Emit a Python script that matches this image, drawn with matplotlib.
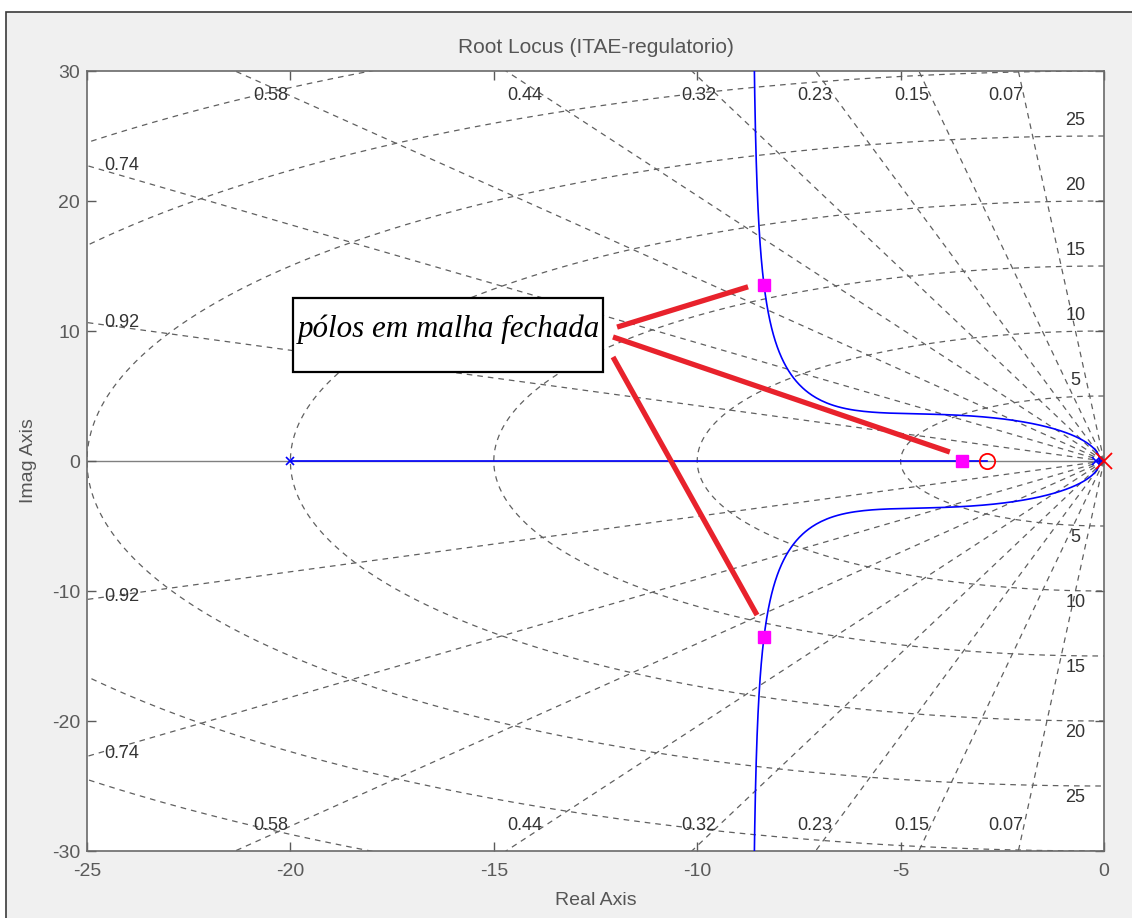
import numpy as np
import matplotlib
matplotlib.use("Agg")
import matplotlib.pyplot as plt
from matplotlib.patches import Rectangle

# open loop poles / zeros, plus the closed loop gain
ol_poles = [0.0, -0.2, -20.0]
ol_zeros = [-2.87]
k_closed = 306.5

# controller pole / zero drawn in red
ctrl_pole = [0.0]
ctrl_zero = [-2.87]

# s-grid values
zeta_vals = [0.07, 0.15, 0.23, 0.32, 0.44, 0.58, 0.74, 0.92]
wn_vals = [5, 10, 15, 20, 25, 30, 35]
wn_labels = [5, 10, 15, 20, 25]

xticks = [-25, -20, -15, -10, -5, 0]
yticks = [-30, -20, -10, 0, 10, 20, 30]

W, H = 1132, 918
plt.rcParams['font.family'] = ['Liberation Sans', 'DejaVu Sans']
plt.rcParams['axes.unicode_minus'] = False

fig = plt.figure(figsize=(W / 100, H / 100), dpi=100, facecolor='white')
fig.patches.append(Rectangle((6 / W, -0.05), 1.2, 1 - 12 / H + 0.05,
                             transform=fig.transFigure, facecolor='#f0f0f0',
                             edgecolor='#3a3a3a', lw=1.2, zorder=-10))

ax = fig.add_axes([87 / W, 1 - 851 / H, (1104 - 87) / W, (851 - 71) / H])
ax.set_facecolor('white')
ax.set_xlim(-25, 0)
ax.set_ylim(-30, 30)

# --- s-grid ---
grid_kw = dict(color='#606060', lw=0.9, ls=(0, (4.5, 4)), zorder=1)
for z in zeta_vals:
    ang = np.arccos(z)
    r = np.array([0, 80])
    ax.plot(-r * np.cos(ang), r * np.sin(ang), **grid_kw)
    ax.plot(-r * np.cos(ang), -r * np.sin(ang), **grid_kw)
th = np.linspace(np.pi / 2, 3 * np.pi / 2, 400)
for wn in wn_vals:
    ax.plot(wn * np.cos(th), wn * np.sin(th), **grid_kw)

lab_kw = dict(fontsize=13, color='#333333', ha='center', va='center', zorder=3)
for z in zeta_vals:
    slope = np.sqrt(1 - z ** 2) / z
    if 28.15 / slope < 24:
        xl = -28.15 / slope - 0.45
        ax.text(xl, 28.15, f"{z:g}", **lab_kw)
        ax.text(xl, -28.0, f"{z:g}", **lab_kw)
    else:
        ax.text(-24.15, 25 * slope, f"{z:g}", **lab_kw)
        ax.text(-24.15, -25 * slope + 0.2, f"{z:g}", **lab_kw)
for wn in wn_labels:
    ax.text(-0.7, wn + 1.2, str(wn), **lab_kw)
    ax.text(-0.7, -wn - 0.9, str(wn), **lab_kw)

# real axis line
ax.axhline(0, color='#808080', lw=1.0, zorder=1.5)

# --- root locus ---
den = np.poly(ol_poles)
num = np.concatenate([np.zeros(len(den) - len(ol_zeros) - 1), np.poly(ol_zeros)])
gains = np.concatenate([[0], np.logspace(-5, 4.5, 4000)])
upper, lower = [], []
for k in gains:
    r = np.roots(den + k * num)
    if np.max(r.imag) > 1e-9:
        c = r[np.argmax(r.imag)]
        upper.append(c)
        lower.append(np.conj(c))
    else:
        rs = np.sort(r.real)[::-1]
        upper.append(rs[0])
        lower.append(rs[1])
upper = np.array(upper)
lower = np.array(lower)
loc_kw = dict(color='blue', lw=1.2, zorder=4)
ax.plot(upper.real, upper.imag, **loc_kw)
ax.plot(lower.real, lower.imag, **loc_kw)
ax.plot([ol_poles[2], ol_zeros[0]], [0, 0], **loc_kw)

ax.plot(ol_poles, np.zeros(len(ol_poles)), 'x', color='blue', ms=6, mew=1.2, zorder=5)
ax.plot(ctrl_zero, [0], 'o', mfc='none', mec='red', ms=11, mew=1.3, zorder=6)
ax.plot(ctrl_pole, [0], 'x', color='red', ms=12, mew=1.3, zorder=6, clip_on=False)

cl = np.roots(den + k_closed * num)
ax.plot(cl.real, cl.imag, 's', color='#ff00ff', ms=9, zorder=7)

# --- annotation ---
ax.add_patch(Rectangle((-19.94, 6.85), 7.62, 5.69, facecolor='white',
                       edgecolor='black', lw=1.6, zorder=8))
ax.text(-19.83, 10.1, "pólos em malha fechada", fontsize=22.3, style='italic',
        family=['Liberation Serif', 'DejaVu Serif'], color='black',
        ha='left', va='center', zorder=9)
red_kw = dict(color='#e8222c', lw=3.8, solid_capstyle='butt', zorder=9)
ax.plot([-11.97, -8.75], [10.3, 13.4], **red_kw)
ax.plot([-12.07, -3.79], [9.54, 0.69], **red_kw)
ax.plot([-12.07, -8.53], [8.0, -11.85], **red_kw)

# --- axes styling ---
ax.set_xticks(xticks)
ax.set_yticks(yticks)
ax.tick_params(direction='in', length=6.5, width=1, top=True, right=True,
               labelsize=14, colors='#5a5a5a', pad=5)
ax.tick_params(axis='x', pad=9)
for sp in ax.spines.values():
    sp.set_color('#6a6a6a')
    sp.set_linewidth(1.2)
ax.set_title("Root Locus (ITAE-regulatorio)", fontsize=15, color='#555555', pad=13)
ax.set_xlabel("Real Axis", fontsize=14, color='#555555', labelpad=8)
ax.set_ylabel("Imag Axis", fontsize=14, color='#555555', labelpad=11)

fig.savefig("out.png", dpi=100, facecolor=fig.get_facecolor())
